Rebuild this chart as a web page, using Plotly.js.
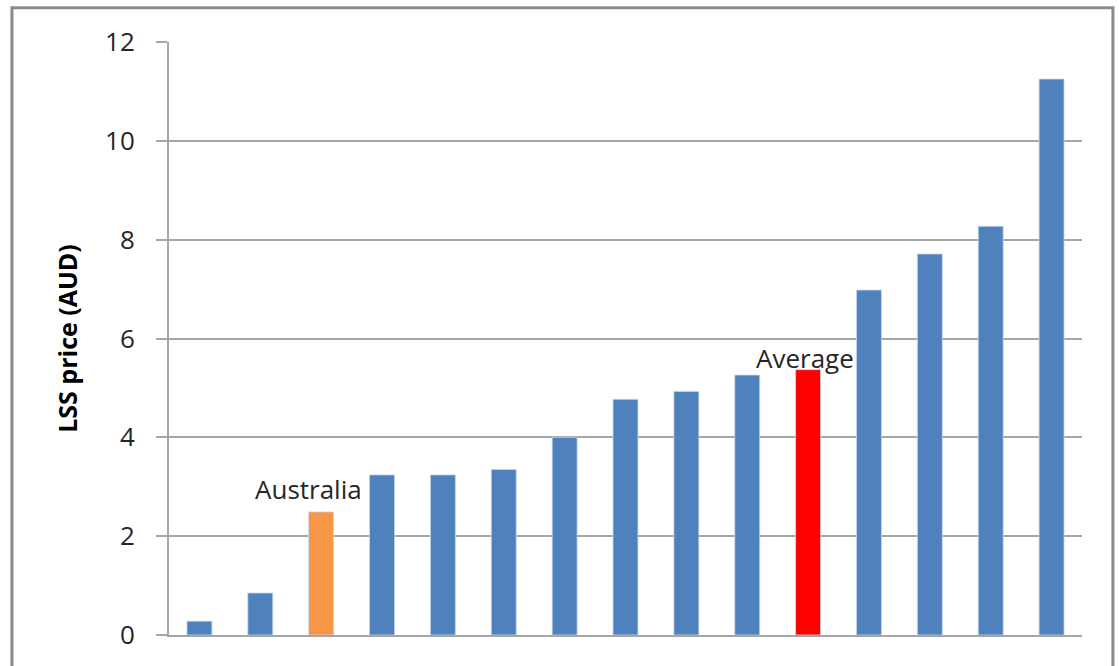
<!DOCTYPE html>
<html>
<head>
<meta charset="utf-8">
<script src="https://cdn.plot.ly/plotly-3.0.1.min.js"></script>
<style>
html,body{margin:0;padding:0;background:#fff;}
#chart{width:1119px;height:666px;}
</style>
</head>
<body>
<div id="chart"></div>
<script>
// Data
var categories = ["C1","C2","Australia","C4","C5","C6","C7","C8","C9","C10","Average","C12","C13","C14","C15"];
var prices = [0.28, 0.85, 2.49, 3.24, 3.24, 3.35, 4.0, 4.77, 4.93, 5.26, 5.37, 6.98, 7.71, 8.27, 11.25];
var barColors = ["#4F81BD","#4F81BD","#F79646","#4F81BD","#4F81BD","#4F81BD","#4F81BD","#4F81BD","#4F81BD","#4F81BD","#FF0000","#4F81BD","#4F81BD","#4F81BD","#4F81BD"];
var yTicks = [0, 2, 4, 6, 8, 10, 12];
var labelled = ["Australia", "Average"];

var trace = {
  type: "bar",
  x: categories,
  y: prices,
  marker: {color: barColors, line: {color: "rgba(200,215,235,0.8)", width: 1}},
  hoverinfo: "y"
};

var annotations = labelled.map(function(name){
  var i = categories.indexOf(name);
  return {
    x: name, y: prices[i], xref: "x", yref: "y",
    text: name, showarrow: false,
    xanchor: "center", yanchor: "bottom",
    xshift: name === "Australia" ? -13 : -3,
    yshift: name === "Australia" ? 3 : -8,
    font: {family: "Open Sans, sans-serif", size: 26, color: "#262626"}
  };
});

var layout = {
  width: 1119, height: 666,
  margin: {l: 169, r: 37, t: 42, b: 31, pad: 0},
  paper_bgcolor: "#ffffff",
  plot_bgcolor: "#ffffff",
  showlegend: false,
  bargap: 0.59,
  font: {family: "Open Sans, sans-serif", color: "#262626"},
  xaxis: {
    type: "category",
    showticklabels: false,
    ticks: "",
    showgrid: false,
    showline: true, linecolor: "#a6a6a6", linewidth: 2,
    zeroline: false,
    fixedrange: true
  },
  yaxis: {
    range: [0, 12],
    tickvals: yTicks,
    ticktext: yTicks.map(String),
    ticks: "outside", ticklen: 11, tickwidth: 2, tickcolor: "#a6a6a6",
    ticklabelstandoff: 16,
    tickfont: {family: "Open Sans, sans-serif", size: 26, color: "#262626"},
    showgrid: true, gridcolor: "#a6a6a6", gridwidth: 2,
    showline: true, linecolor: "#a6a6a6", linewidth: 2,
    zeroline: false,
    title: {text: "LSS price (AUD)", font: {family: "Open Sans, sans-serif", size: 25, color: "#000000", weight: "bold"}, standoff: 20},
    fixedrange: true
  },
  annotations: annotations,
  shapes: [{
    type: "rect", xref: "paper", yref: "paper",
    x0: -0.1720, x1: 1.0339, y0: -0.10, y1: 1.0577,
    line: {color: "#8a8a8a", width: 3},
    layer: "above"
  }]
};

Plotly.newPlot("chart", [trace], layout, {displayModeBar: false, staticPlot: true});
</script>
</body>
</html>
